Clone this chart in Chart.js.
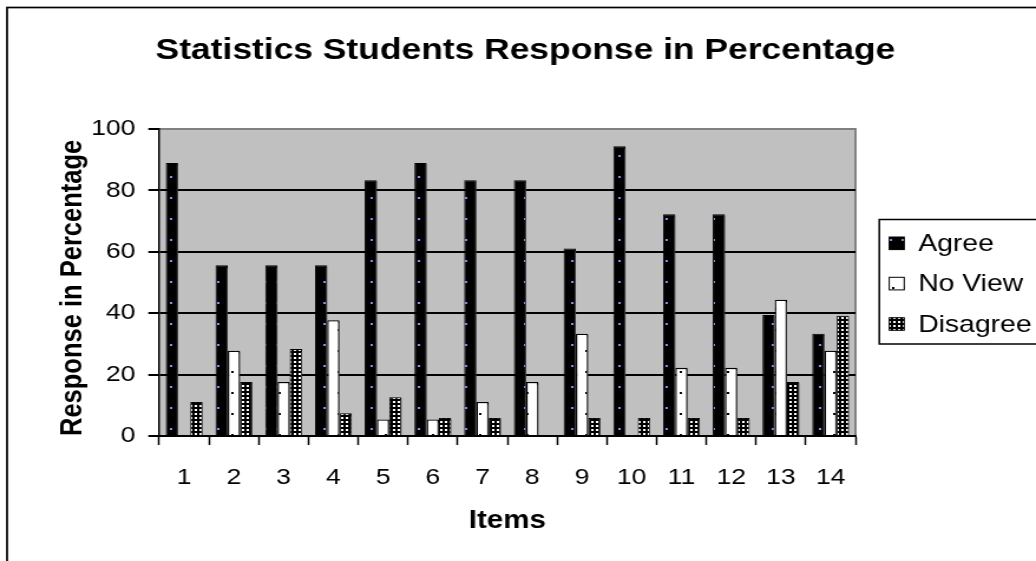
<!DOCTYPE html>
<html>
<head>
<meta charset="utf-8">
<title>Statistics Students Response in Percentage</title>
<script src="https://cdn.jsdelivr.net/npm/chart.js@4.4.1/dist/chart.umd.min.js"></script>
<style>
  html, body { margin: 0; padding: 0; background: #ffffff; overflow: hidden; }
</style>
</head>
<body>
<!-- Drawn at 878px wide and widened to 1036px on screen -->
<canvas id="c" width="878" height="561" style="display:block;width:1036px;height:561px;"></canvas>
<script>
// Items surveyed and the share of students (%) giving each response
const items = ['1', '2', '3', '4', '5', '6', '7', '8', '9', '10', '11', '12', '13', '14'];
const agree = [88.9, 55.6, 55.6, 55.6, 83.3, 88.9, 83.3, 83.3, 61.1, 94.4, 72.2, 72.2, 39.4, 33.3];
const noView = [0, 27.8, 17.6, 37.7, 5.4, 5.4, 11.1, 17.6, 33.3, 0, 22.2, 22.2, 44.4, 27.8];
const disagree = [11.1, 17.6, 28.3, 7.4, 12.6, 5.9, 5.9, 0, 5.9, 5.9, 5.9, 5.9, 17.6, 39.2];
const seriesNames = ['Agree', 'No View', 'Disagree'];
const yTicks = [0, 20, 40, 60, 80, 100];

const FONT = '"Liberation Sans", Arial, Helvetica, sans-serif';

// Pattern fills for the three series
function makePattern(w, h, paint) {
  const tile = document.createElement('canvas');
  tile.width = w; tile.height = h;
  const t = tile.getContext('2d');
  paint(t);
  return t.createPattern(tile, 'repeat');
}
const agreeFill = makePattern(10, 21, t => {
  t.fillStyle = '#000000'; t.fillRect(0, 0, 10, 21);
  t.fillStyle = '#8c8cff'; t.fillRect(4, 8, 2, 2);
});
const noViewFill = makePattern(10, 21, t => {
  t.fillStyle = '#ffffff'; t.fillRect(0, 0, 10, 21);
  t.fillStyle = '#000000'; t.fillRect(6, 14, 2, 2);
});
const disagreeFill = makePattern(4, 4, t => {
  t.fillStyle = '#000000'; t.fillRect(0, 0, 4, 4);
  t.fillStyle = '#ffffff'; t.fillRect(1, 1, 2, 2);
});

// Page frame, grey plot area and its top/right edge
const frame = {
  id: 'frame',
  beforeDraw(chart) {
    const {ctx, chartArea: a, width, height} = chart;
    ctx.save();
    ctx.fillStyle = '#ffffff';
    ctx.fillRect(0, 0, width, height);
    ctx.strokeStyle = '#000000';
    ctx.lineWidth = 1.7;
    ctx.strokeRect(6, 7.5, width + 40, height + 40);
    ctx.fillStyle = '#c0c0c0';
    ctx.fillRect(a.left, a.top, a.right - a.left, a.bottom - a.top);
    ctx.strokeStyle = '#808080';
    ctx.lineWidth = 2;
    ctx.beginPath();
    ctx.moveTo(a.left, a.top);
    ctx.lineTo(a.right, a.top);
    ctx.lineTo(a.right, a.bottom);
    ctx.stroke();
    ctx.restore();
  }
};

// Drop shadow behind the bars
const barShadow = {
  id: 'barShadow',
  beforeDatasetsDraw(chart) {
    const ctx = chart.ctx;
    ctx.save();
    ctx.shadowColor = 'rgba(70,70,70,0.85)';
    ctx.shadowOffsetX = 1.5;
    ctx.shadowOffsetY = 1.5;
    ctx.shadowBlur = 0;
  },
  afterDatasetsDraw(chart) {
    chart.ctx.restore();
  }
};

// Boxed legend to the right of the plot
const boxLegend = {
  id: 'boxLegend',
  afterDraw(chart) {
    const ctx = chart.ctx;
    const x0 = 745.2, y0 = 219.5, h = 124.5;
    ctx.save();
    ctx.strokeStyle = '#000000';
    ctx.lineWidth = 1.5;
    ctx.strokeRect(x0, y0, 200, h);
    ctx.font = '24px ' + FONT;
    ctx.textBaseline = 'middle';
    ctx.textAlign = 'left';
    const rows = [243.3, 283.6, 324];
    chart.data.datasets.forEach((ds, i) => {
      const cy = rows[i];
      ctx.fillStyle = ds.backgroundColor;
      ctx.fillRect(753.6, cy - 6.3, 12.7, 12.6);
      ctx.strokeStyle = '#000000';
      ctx.lineWidth = 1;
      ctx.strokeRect(753.6, cy - 6.3, 12.7, 12.6);
      ctx.fillStyle = '#000000';
      ctx.fillText(ds.label, 778.2, cy + 1);
    });
    ctx.restore();
  }
};

const datasets = [
  { label: seriesNames[0], data: agree, backgroundColor: agreeFill, borderColor: '#000000', borderWidth: 1 },
  { label: seriesNames[1], data: noView, backgroundColor: noViewFill, borderColor: '#000000', borderWidth: 1.3 },
  { label: seriesNames[2], data: disagree, backgroundColor: disagreeFill, borderColor: '#000000', borderWidth: 1 }
];

new Chart(document.getElementById('c'), {
  type: 'bar',
  data: { labels: items, datasets },
  plugins: [frame, barShadow, boxLegend],
  options: {
    responsive: false,
    animation: false,
    devicePixelRatio: 1,
    layout: { padding: { left: 12.6, right: 0, top: 0, bottom: 0 } },
    datasets: {
      bar: { categoryPercentage: 0.74, barPercentage: 1.0, borderSkipped: 'start' }
    },
    plugins: {
      legend: { display: false },
      tooltip: { enabled: false },
      title: {
        display: true,
        text: 'Statistics Students Response in Percentage',
        color: '#000000',
        font: { family: FONT, size: 30, weight: 'bold' },
        padding: { top: 32.4, bottom: 60.6 }
      }
    },
    scales: {
      x: {
        type: 'category',
        offset: true,
        grid: {
          display: true, drawOnChartArea: false, offset: true,
          tickLength: 9, tickColor: '#000000', tickWidth: 1.5, color: '#000000'
        },
        border: { display: true, color: '#000000', width: 2 },
        ticks: { color: '#000000', font: { family: FONT, size: 22.5 }, padding: 19.5, maxRotation: 0 },
        title: {
          display: true, text: 'Items', color: '#000000',
          font: { family: FONT, size: 25, weight: 'bold' },
          padding: { top: 0, bottom: 25 }
        },
        afterFit(s) { s.height = 125; }
      },
      y: {
        min: 0, max: 100,
        afterBuildTicks(s) { s.ticks = yTicks.map(v => ({ value: v })); },
        grid: {
          color: ctx => (ctx.tick && ctx.tick.value === 100) ? 'rgba(0,0,0,0)' : '#000000',
          lineWidth: 2, tickLength: 9.3, tickColor: '#000000', tickWidth: 2
        },
        border: { display: true, color: '#000000', width: 1.5 },
        ticks: { color: '#000000', font: { family: FONT, size: 22.5 }, padding: 11 },
        title: {
          display: true, text: 'Response in Percentage', color: '#000000',
          align: 'start',
          font: { family: FONT, size: 25.5, weight: 'bold' },
          padding: { top: 34, bottom: 0 }
        },
        afterFit(s) { s.width = 135 - 12.6; }
      },
      legendSpace: {
        type: 'linear', position: 'right', display: true,
        grid: { display: false, drawTicks: false },
        border: { display: false },
        ticks: { display: false },
        afterFit(s) { s.width = 878 - 725; }
      }
    }
  }
});
</script>
</body>
</html>
